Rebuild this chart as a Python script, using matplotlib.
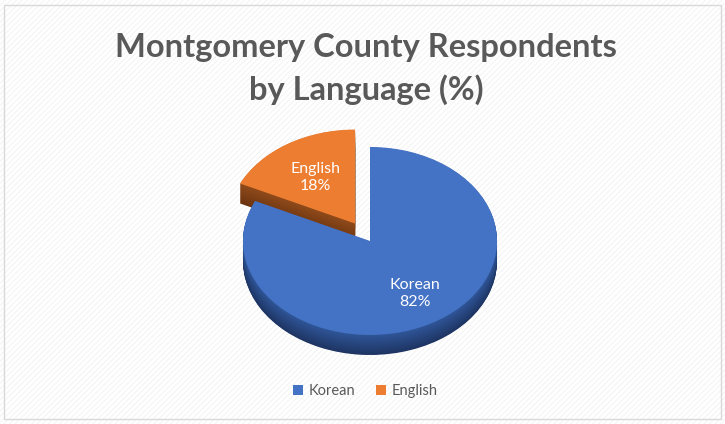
import numpy as np
import matplotlib
matplotlib.use('Agg')
import matplotlib.pyplot as plt
from matplotlib.patches import Rectangle
from matplotlib.lines import Line2D
from matplotlib.colors import to_rgb

plt.rcParams['font.family'] = ['Lato', 'DejaVu Sans']
plt.rcParams['hatch.linewidth'] = 0.6

# data
languages = ['Korean', 'English']
shares = [82, 18]
top_colors = ['#4472C4', '#ED7D31']
side_top = ['#2F5597', '#8F4A1A']
side_bottom = ['#1E3563', '#6B3410']
explode = [0, 0.22]

title = 'Montgomery County Respondents\nby Language (%)'
grey = '#595959'

W, H = 725, 424
fig = plt.figure(figsize=(W / 100, H / 100), dpi=100)

# background with faint diagonal stripes and border
fig.patches.append(Rectangle((0, 0), 1, 1, transform=fig.transFigure,
                             facecolor='white', edgecolor='#F1F1F1',
                             hatch='//////', linewidth=0, zorder=-2))
fig.patches.append(Rectangle((4 / W, 5 / H), 717 / W, 414 / H,
                             transform=fig.transFigure, facecolor='none',
                             edgecolor='#D9D9D9', linewidth=1, zorder=5))

# pie axes: 1 unit = 127 px horizontally, 94 px vertically (tilted look)
sx, sy = 127, 94
cx, cy = 370, 424 - 241
ax_w, ax_h = 340, 270
ax = fig.add_axes([(cx - ax_w / 2) / W, (cy - ax_h / 2) / H, ax_w / W, ax_h / H])

depth = 20 / sy
n = 30
for i, k in enumerate(np.linspace(depth, 0.005, n)):
    t = i / (n - 1)
    cols = [tuple((1 - t) * np.array(to_rgb(b)) + t * np.array(to_rgb(a)))
            for a, b in zip(side_top, side_bottom)]
    ax.pie(shares, colors=cols, explode=explode, startangle=90,
           counterclock=False, center=(0, -k), frame=True,
           wedgeprops=dict(linewidth=0))
wedges, _ = ax.pie(shares, colors=top_colors, explode=explode, startangle=90,
                   counterclock=False, center=(0, 0), frame=True,
                   wedgeprops=dict(linewidth=0))
ax.set_aspect('auto')
ax.set_xlim(-ax_w / 2 / sx, ax_w / 2 / sx)
ax.set_ylim(-ax_h / 2 / sy, ax_h / 2 / sy)
ax.axis('off')

label_r = [0.66, 0.58]
for w, name, val, r in zip(wedges, languages, shares, label_r):
    mid = np.deg2rad((w.theta1 + w.theta2) / 2)
    x = w.center[0] + r * np.cos(mid)
    y = w.center[1] + r * np.sin(mid)
    ax.text(x, y, f'{name}\n{val}%', ha='center', va='center', color='white',
            fontsize=11.5, linespacing=1.3)

fig.text(0.505, 1 - 69 / H, title, ha='center', va='center', fontsize=23.5,
         fontweight='bold', color=grey, linespacing=1.45)

handles = [Line2D([], [], marker='s', linestyle='none', markersize=7,
                  markerfacecolor=c, markeredgewidth=0) for c in top_colors]
fig.legend(handles, languages, loc='center', bbox_to_anchor=(0.503, 1 - 391 / H),
           ncol=2, frameon=False, fontsize=10.5, labelcolor=grey,
           handlelength=0.8, handletextpad=0.3, columnspacing=1.4)

fig.savefig('out.png', dpi=100)
